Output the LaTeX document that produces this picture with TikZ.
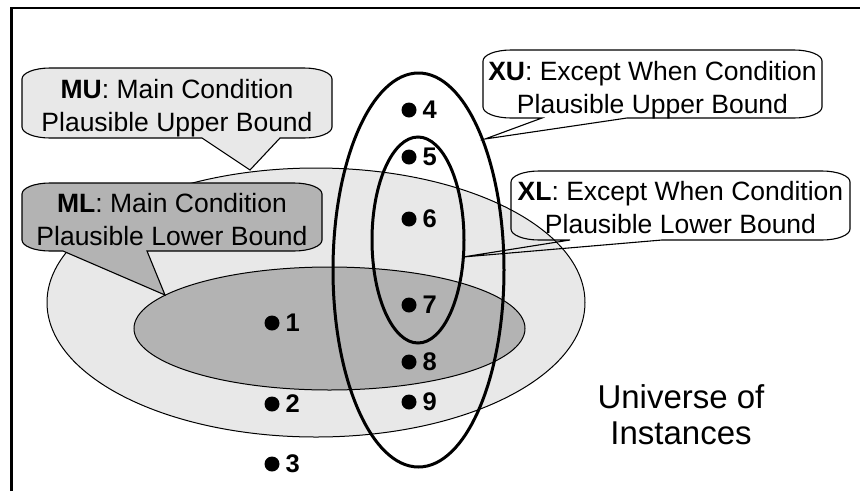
\documentclass[tikz,border=0pt]{standalone}
\usepackage{fontspec}
\setmainfont{Liberation Sans}
\definecolor{upperfill}{HTML}{E8E8E8}
\definecolor{lowerfill}{HTML}{B3B3B3}

% corner radii of the callout boxes
\newcommand{\cxr}{28}
\newcommand{\cyr}{11}
% rounded callout box with a wedge on its bottom edge
% #1 style, #2 left, #3 top, #4 right, #5 bottom, #6/#7 wedge base x, #8 wedge tip
\newcommand{\calloutpath}[8]{%
  \draw[#1] ({#2+\cxr},#3) -- ({#4-\cxr},#3)
    arc[start angle=-90,end angle=0,x radius=\cxr,y radius=\cyr]
    -- (#4,{#5-\cyr})
    arc[start angle=0,end angle=90,x radius=\cxr,y radius=\cyr]
    -- (#7,#5) -- (#8) -- (#6,#5) -- ({#2+\cxr},#5)
    arc[start angle=90,end angle=180,x radius=\cxr,y radius=\cyr]
    -- (#2,{#3+\cyr})
    arc[start angle=180,end angle=270,x radius=\cxr,y radius=\cyr]
    -- cycle;}

\tikzset{
  setline/.style={draw=black, line width=1pt},
  boundline/.style={draw=black, line width=3pt},
  callbox/.style={draw=black, line width=1.1pt, line join=miter},
  calltext/.style={align=center, inner sep=0pt, anchor=north,
    font={\fontsize{26.5}{33.3}\selectfont}},
  dotmark/.style={circle, fill=black, inner sep=0pt, minimum size=15pt},
  digit/.style={anchor=west, inner sep=0pt,
    font={\fontsize{25.5}{30}\selectfont\bfseries}},
}

\begin{document}
\begin{tikzpicture}[x=1pt, y=-1pt]
\useasboundingbox (0,0) rectangle (860,491);
\fill[white] (0,0) rectangle (860,491);

% frame
\draw[line width=2.6pt] (11.3,491) -- (11.3,8) -- (860,8);

% main condition sets
\path[setline, fill=upperfill] (316,302.5) ellipse[x radius=269, y radius=134.5];
\path[setline, fill=lowerfill] (329.5,328.5) ellipse[x radius=195.5, y radius=61.5];

% wedge tips
\coordinate (muTip) at (250,170);
\coordinate (mlTip) at (165,295);
\coordinate (xuTip) at (485,139);
\coordinate (xlTip) at (463,257);

% main condition callouts
\calloutpath{callbox, fill=upperfill}{22}{68}{332}{138}{202}{280}{muTip}
\node[calltext] (muText) at (177,79) {\textbf{MU}: Main Condition\\Plausible Upper Bound};
\calloutpath{callbox, fill=lowerfill}{22}{183}{322}{251}{63}{147}{mlTip}
\node[calltext] (mlText) at (172,193) {\textbf{ML}: Main Condition\\Plausible Lower Bound};

% except-when condition sets
\draw[boundline] (418.5,270) ellipse[x radius=85.5, y radius=197];
\draw[boundline] (418,240) ellipse[x radius=46, y radius=103];

% except-when callouts
\calloutpath{callbox}{483}{50}{822}{118}{542}{627}{xuTip}
\node[calltext] (xuText) at (652.5,61) {\textbf{XU}: Except When Condition\\Plausible Upper Bound};
\calloutpath{callbox}{511}{171}{850}{240}{570}{662}{xlTip}
\node[calltext] (xlText) at (680.5,181) {\textbf{XL}: Except When Condition\\Plausible Lower Bound};

% instances
\foreach \n/\x/\y in {1/272/323, 2/272/404, 3/272/464,
                      4/409/110, 5/409/157, 6/409/219,
                      7/409/305, 8/409/362, 9/409/402} {
  \node[dotmark] (d\n) at (\x,\y) {};
  \node[digit] (n\n) at ([xshift=13.5pt]d\n.center) {\n};
}

\node[align=center, inner sep=0pt, anchor=north,
      font={\fontsize{33}{36.5}\selectfont}] (universe) at (681,384)
      {Universe of\\Instances};
\end{tikzpicture}
\end{document}
